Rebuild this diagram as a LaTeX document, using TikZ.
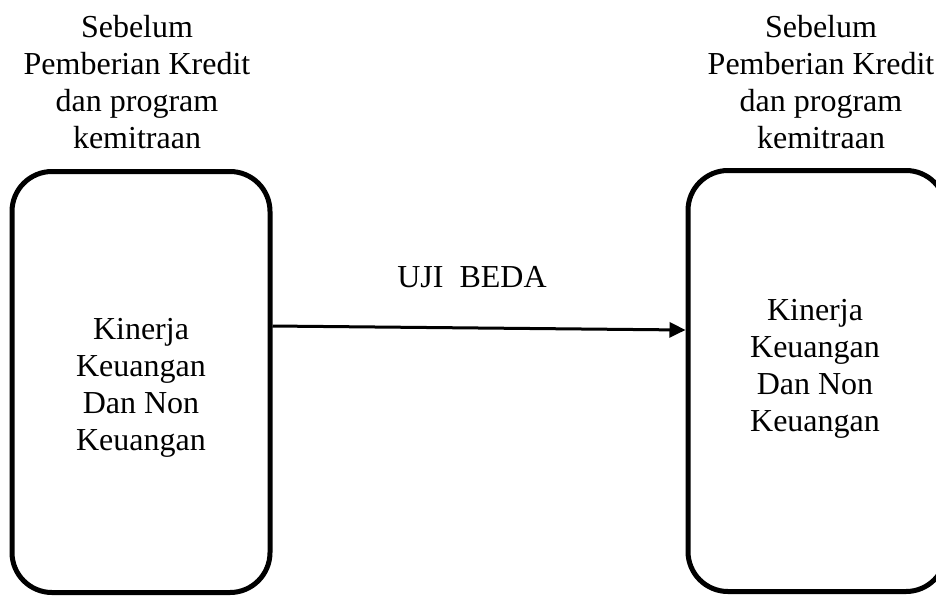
\documentclass[tikz,border=0pt]{standalone}
\usepackage{fontspec}
\setmainfont{Liberation Serif}
\usetikzlibrary{arrows.meta,positioning}

\tikzset{
  box/.style={draw, line width=5pt, rounded corners=40pt, minimum width=258pt, minimum height=421pt},
  txt/.style={align=center, inner sep=0pt, font=\fontsize{32}{37}\selectfont},
  arrow/.style={line width=3pt, -{Triangle[length=16pt,width=15pt]}}
}

\begin{document}
\begin{tikzpicture}[x=1pt,y=-1pt]
\useasboundingbox (0,0) rectangle (936,595);

\node[box] (leftbox) at (141,382) {};
\node[box] (rightbox) at (817,381) {};

\node[txt] (lefttitle) at (137,82) {Sebelum\\Pemberian Kredit\\dan program\\kemitraan};
\node[txt] (righttitle) at (821,82) {Sebelum\\Pemberian Kredit\\dan program\\kemitraan};

\node[txt] (lefttext) at (141,388) {Kinerja\\Keuangan\\Dan Non\\Keuangan};
\node[txt] (righttext) at (815,369) {Kinerja\\Keuangan\\Dan Non\\Keuangan};

\coordinate (from) at ([yshift=56pt]leftbox.east);
\coordinate (to) at ([yshift=51pt]rightbox.west);
\draw[arrow] (from) -- (to);
\node[txt] (uji) at (472,277) {UJI\ \ BEDA};
\end{tikzpicture}
\end{document}
